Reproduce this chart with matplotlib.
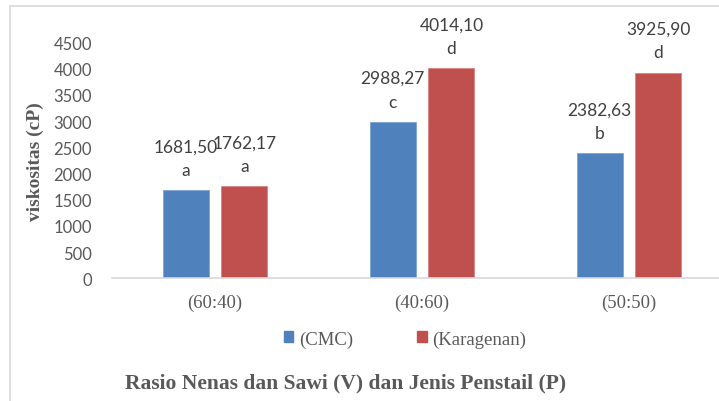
import matplotlib

matplotlib.use("Agg")
import matplotlib.pyplot as plt
import numpy as np
from matplotlib.patches import Patch, Rectangle

categories = ["(60:40)", "(40:60)", "(50:50)"]
series_names = ["(CMC)", "(Karagenan)"]
cmc_values = [1681.50, 2988.27, 2382.63]
karagenan_values = [1762.17, 4014.10, 3925.90]
cmc_letters = ["a", "c", "b"]
karagenan_letters = ["a", "d", "d"]
y_ticks = [0, 500, 1000, 1500, 2000, 2500, 3000, 3500, 4000, 4500]

BLUE = "#4F81BD"
RED = "#C0504D"
TICK_GRAY = "#595959"
LABEL_GRAY = "#404040"
SANS = ["Lato", "DejaVu Sans"]
SERIF = ["Liberation Serif", "DejaVu Serif"]

W, H = 719, 402
fig = plt.figure(figsize=(W / 100, H / 100), dpi=100)

# light chart-area frame, running past the right and bottom edges
fig.patches.append(Rectangle((10 / W, -0.1), 1.2, 1 - 7 / H + 0.1, transform=fig.transFigure,
                             fill=False, edgecolor="#d9d9d9", linewidth=1.2))

ax = fig.add_axes([111.5 / W, (H - 279.3) / H, 621 / W, 235.8 / H])
x = np.arange(len(categories))
bar_w = 0.222
off = 0.142
bars_cmc = ax.bar(x - off, cmc_values, bar_w, color=BLUE, edgecolor="#7fa3d3", linewidth=0.6)
bars_kar = ax.bar(x + off, karagenan_values, bar_w, color=RED, edgecolor="#d98583", linewidth=0.6)

for bars, vals, letters in [(bars_cmc, cmc_values, cmc_letters), (bars_kar, karagenan_values, karagenan_letters)]:
    for b, v, l in zip(bars, vals, letters):
        cx = b.get_x() + b.get_width() / 2
        ax.annotate(l, (cx, v), xytext=(0, 14.5), textcoords="offset points", ha="center", va="center",
                    fontsize=12.5, family=SANS, color=LABEL_GRAY, annotation_clip=False)
        ax.annotate(f"{v:.2f}".replace(".", ","), (cx, v), xytext=(0, 31.5), textcoords="offset points",
                    ha="center", va="center", fontsize=12.5, family=SANS, color=LABEL_GRAY, annotation_clip=False)

ax.set_xlim(-0.5, 2.5)
ax.set_ylim(0, 4500)
ax.set_yticks(y_ticks)
ax.set_yticklabels([str(t) for t in y_ticks], family=SANS, fontsize=12, color=TICK_GRAY)
ax.set_xticks(x)
ax.set_xticklabels(categories, family=SERIF, fontsize=13.5, color=TICK_GRAY)
ax.tick_params(axis="y", length=0, pad=14)
ax.tick_params(axis="x", length=0, pad=11)
for s in ["top", "right", "left"]:
    ax.spines[s].set_visible(False)
ax.spines["bottom"].set_color("#d9d9d9")
ax.spines["bottom"].set_linewidth(1.2)

fig.text(35 / W, 1 - 162 / H, "viskositas (cP)", rotation=90, ha="center", va="center",
         family=SERIF, fontsize=14, fontweight="bold", color=TICK_GRAY)
fig.text(345.5 / W, 1 - 383 / H, "Rasio Nenas dan Sawi (V) dan Jenis Penstail (P)", ha="center", va="center",
         family=SERIF, fontsize=15.5, fontweight="bold", color=TICK_GRAY)

handles = [Patch(facecolor=BLUE, edgecolor=BLUE), Patch(facecolor=RED, edgecolor=RED)]
leg = fig.legend(handles, series_names, loc="center", bbox_to_anchor=(405 / W, 1 - 340 / H), ncol=2,
                 frameon=False, handlelength=0.53, handleheight=0.53, handletextpad=0.3, columnspacing=3.4,
                 prop={"family": SERIF, "size": 13.5})
for t in leg.get_texts():
    t.set_color(TICK_GRAY)

fig.savefig("out.png", dpi=100)
